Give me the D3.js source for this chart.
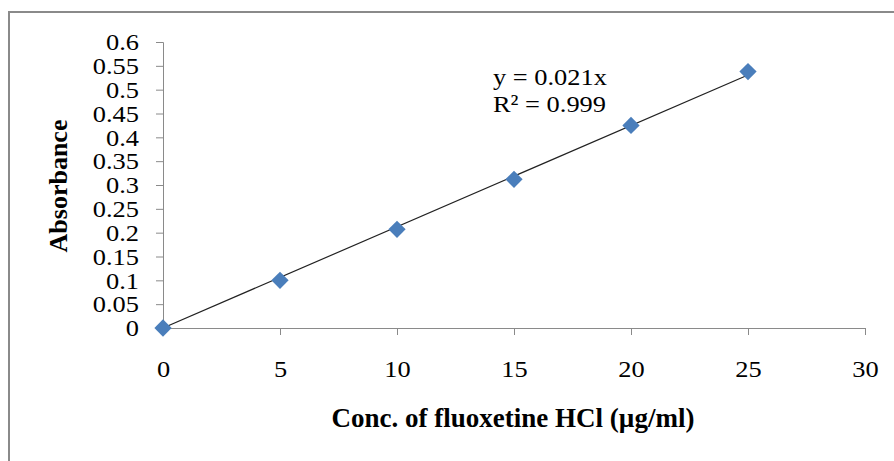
<!DOCTYPE html>
<html>
<head>
<meta charset="utf-8">
<script src="https://cdn.jsdelivr.net/npm/d3@7"></script>
<style>
  body { margin: 0; background: #fff; }
  svg text { font-family: "Liberation Serif", "Times New Roman", serif; }
</style>
</head>
<body>
<div id="chart"></div>
<script>
// calibration data
var conc = [0, 5, 10, 15, 20, 25];
var absorbance = [0, 0.1, 0.207, 0.312, 0.425, 0.538];
var xTicks = [0, 5, 10, 15, 20, 25, 30];
var yTicks = [0, 0.05, 0.1, 0.15, 0.2, 0.25, 0.3, 0.35, 0.4, 0.45, 0.5, 0.55, 0.6];
var eqLines = ["y = 0.021x", "R\u00B2 = 0.999"];

var W = 894, H = 461;
var margin = {top: 42, right: 29, bottom: 133, left: 163},
    width = W - margin.left - margin.right,
    height = H - margin.top - margin.bottom;

var root = d3.select("#chart").append("svg")
    .attr("width", W)
    .attr("height", H);

// chart area border (right and bottom run off the picture)
root.append("rect")
    .attr("x", 9).attr("y", 12)
    .attr("width", 900).attr("height", 470)
    .attr("fill", "none")
    .attr("stroke", "#8a8a8a")
    .attr("stroke-width", 2);

var svg = root.append("g")
    .attr("transform", "translate(" + margin.left + "," + margin.top + ")");

var x = d3.scaleLinear().domain([0, 30]).range([0, width]);
var y = d3.scaleLinear().domain([0, 0.6]).range([height, 0]);

// X axis
var xAxis = svg.append("g")
    .attr("transform", "translate(0," + height + ")")
    .call(d3.axisBottom(x).tickValues(xTicks).tickSize(7).tickPadding(25)
      .tickFormat(d3.format("d")));
xAxis.selectAll("line, path").attr("stroke", "#8a8a8a");
xAxis.selectAll("text").attr("class", "wide").style("font-size", "24px").attr("fill", "#000");

// Y axis
var yAxis = svg.append("g")
    .call(d3.axisLeft(y).tickValues(yTicks).tickSize(7).tickPadding(17)
      .tickFormat(function(d) { return +d.toFixed(2) + ""; }));
yAxis.selectAll("line, path").attr("stroke", "#8a8a8a");
yAxis.selectAll("text").attr("class", "wide").style("font-size", "24px").attr("fill", "#000");

// linear trendline through the origin
var slope = d3.sum(conc, function(c, i) { return c * absorbance[i]; }) /
            d3.sum(conc, function(c) { return c * c; });
svg.append("line")
    .attr("x1", x(0)).attr("y1", y(0))
    .attr("x2", x(d3.max(conc))).attr("y2", y(slope * d3.max(conc)))
    .attr("stroke", "#222")
    .attr("stroke-width", 1.2);

// markers
svg.selectAll(".pt")
    .data(conc)
    .enter()
    .append("path")
      .attr("class", "pt")
      .attr("d", d3.symbol().type(d3.symbolDiamond2).size(190))
      .attr("transform", function(d, i) {
        return "translate(" + x(d) + "," + y(absorbance[i]) + ")";
      })
      .attr("fill", "#4a7ebb");

// equation label
svg.selectAll(".eq")
    .data(eqLines)
    .enter()
    .append("text")
      .attr("class", "eq wide")
      .attr("x", 330)
      .attr("y", function(d, i) { return 43 + i * 27; })
      .style("font-size", "24px")
      .text(function(d) { return d; });

// the original glyphs are a bit wider than Liberation Serif
root.selectAll("text.wide").each(function() {
  var len = this.getComputedTextLength();
  d3.select(this)
    .attr("textLength", len * 1.1)
    .attr("lengthAdjust", "spacingAndGlyphs");
});

// axis titles
root.append("text")
    .attr("x", margin.left + width / 2 - 1).attr("y", 427)
    .attr("text-anchor", "middle")
    .style("font-size", "27px")
    .style("font-weight", "bold")
    .text("Conc. of fluoxetine HCl (\u00B5g/ml)");

root.append("text")
    .attr("transform", "translate(67,186) rotate(-90)")
    .attr("text-anchor", "middle")
    .style("font-size", "26px")
    .style("font-weight", "bold")
    .text("Absorbance");
</script>
</body>
</html>
